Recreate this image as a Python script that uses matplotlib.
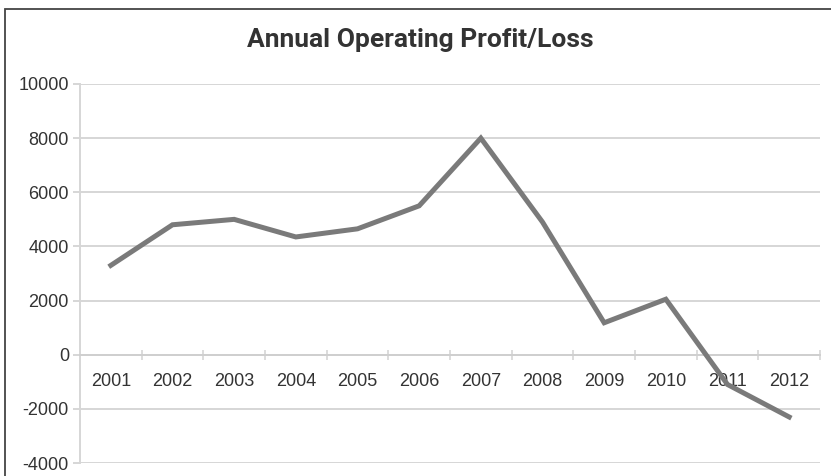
import matplotlib
matplotlib.use("Agg")
import matplotlib.pyplot as plt
from matplotlib.patches import Rectangle
from matplotlib.ticker import FixedLocator

years = ["2001", "2002", "2003", "2004", "2005", "2006",
         "2007", "2008", "2009", "2010", "2011", "2012"]
profit = [3300, 4800, 5000, 4350, 4650, 5500, 8000, 4900, 1180, 2050, -1100, -2300]
yticks = [-4000, -2000, 0, 2000, 4000, 6000, 8000, 10000]
title = "Annual Operating Profit/Loss"

W, H = 831, 476
fig = plt.figure(figsize=(W / 100, H / 100), dpi=100)
fig.patch.set_facecolor("white")

ax = fig.add_axes([80 / W, 1 - 463 / H, (820 - 80) / W, (463 - 84) / H])
x = list(range(len(years)))
ax.plot(x, profit, color="#7a7a7a", lw=3.6, solid_joinstyle="miter", zorder=3)

ax.set_xlim(-0.5, len(years) - 0.5)
ax.set_ylim(-4000, 10000)
ax.set_yticks(yticks)
ax.set_yticklabels([str(v) for v in yticks])
ax.grid(axis="y", color="#d6d6d6", lw=1.4)
ax.set_axisbelow(True)

for s in ["top", "right"]:
    ax.spines[s].set_visible(False)
ax.spines["left"].set_color("#d6d6d6")
ax.spines["left"].set_linewidth(1.4)
ax.spines["bottom"].set_position(("data", 0))
ax.spines["bottom"].set_color("#cfcfcf")
ax.spines["bottom"].set_linewidth(1.4)

ax.set_xticks(x)
ax.set_xticklabels(years)
ax.xaxis.set_minor_locator(FixedLocator([i + 0.5 for i in x]))
ax.tick_params(axis="x", which="major", length=0, pad=13,
               labelsize=13, labelcolor="#333333")
ax.tick_params(axis="x", which="minor", length=7, direction="inout",
               color="#d6d6d6", width=1.2)
ax.tick_params(axis="y", length=5, color="#d6d6d6", width=1.4, pad=3,
               labelsize=13, labelcolor="#333333")
for lab in ax.get_xticklabels() + ax.get_yticklabels():
    lab.set_family(["Liberation Sans", "DejaVu Sans"])

fig.text(420 / W, 1 - 40 / H, title, ha="center", va="center",
         fontsize=19, fontweight="bold", color="#333333",
         family=["Roboto", "Liberation Sans", "DejaVu Sans"])

fig.patches.append(Rectangle((5 / W, -0.1), 1.2, 1 - 9 / H + 0.1,
                             transform=fig.transFigure, fill=False,
                             edgecolor="#444444", lw=1.3, zorder=10))

fig.savefig("out.png", dpi=100, facecolor="white")
